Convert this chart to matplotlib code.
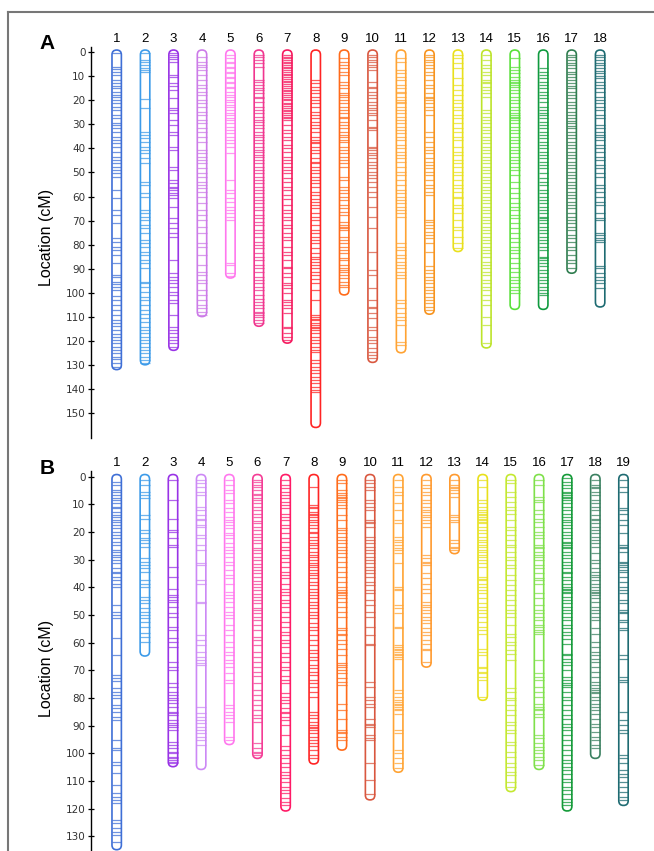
import matplotlib
matplotlib.use("Agg")
import matplotlib.pyplot as plt
from matplotlib.patches import FancyBboxPatch
from matplotlib.lines import Line2D

# ---- panel A : linkage group lengths (cM) and marker positions ----
lengths_a = [131, 129, 123, 109, 93, 113, 120, 155, 100, 128, 124, 108, 82, 122, 106, 106, 91, 105]
colors_a = ['#3f6fd6', '#3d9be9', '#9933e6', '#cc7ae8', '#ff77ee', '#f0368f', '#f5195e', '#ff2424',
            '#ff6b1a', '#d9573f', '#ffa333', '#f7931e', '#e9e01c', '#bde42a', '#59e03a', '#0f9a3e',
            '#2f7d4f', '#1e6b72']

a1 = [0.5, 6.1, 7.1, 8.2, 9.5, 11.6, 13, 14.1, 15.1, 16.5, 17.8, 18.8, 19.9, 21.3, 22.7, 24.1, 26.1, 27.5,
      29.6, 30.3, 31.7, 33.1, 35.1, 36.5, 37.9, 39.3, 41.4, 43.4, 44.8, 46.2, 47.6, 49, 50.3, 51.7, 57.3,
      60.7, 65.6, 67.6, 71.1, 77.3, 78.7, 80.8, 82.2, 84.2, 87.7, 92.5, 93.2, 95.3, 96.4, 97.7, 98.8, 101.3,
      102.9, 105, 107.1, 109.1, 111.2, 112.6, 113.7, 115.3, 117, 118.4, 119.5, 120.9, 122.5, 123.7, 125,
      126.4, 127.5, 129.2, 130.6]
a2 = [0.5, 3.3, 4, 5.4, 6.5, 7.5, 8.2, 19.6, 23.4, 33.1, 34.4, 35.8, 37.2, 39.3, 40.7, 42, 44.1, 46.2,
      53.8, 55.2, 58.6, 60, 65.6, 66.9, 68.3, 69.7, 71.8, 73.1, 75.2, 78, 79.4, 80.8, 82.8, 84.2, 86.3,
      87.7, 89.8, 95.3, 96, 97.7, 99.4, 101.5, 102.9, 105, 107.1, 108.7, 110.5, 111.9, 114, 115.3, 116.7,
      118.4, 119.5, 120.9, 122.3, 123.7, 125, 126.4, 127.8, 129]
a3 = [0.5, 1.2, 2.2, 3, 4, 9.5, 10.5, 13, 14.1, 15.8, 19.2, 23.4, 24.1, 25.4, 28.2, 30.3, 33.1, 34.4,
      39.3, 40.7, 47.6, 49, 53.1, 54.5, 55.9, 56.6, 57.3, 58.6, 59.3, 60.7, 64.2, 69, 71.1, 73.1, 75.2,
      76.6, 86.3, 91.8, 93.2, 94.6, 96, 97.4, 99.4, 100.8, 102.9, 104.3, 109.1, 114, 115.3, 116.7, 118.1,
      119.5, 120.9, 122.3]
a4 = [1.9, 4, 5.4, 6.1, 7.5, 9.5, 11.6, 13.7, 15.1, 16.5, 17.8, 19.9, 21.3, 22.7, 24.8, 26.1, 28.2, 29.6,
      31.7, 33.1, 35.1, 37.2, 40.7, 42, 43.4, 44.8, 46.2, 48.3, 50.3, 51.7, 53.8, 55.2, 56.6, 58, 60, 62.8,
      65.6, 67.6, 69.7, 72.5, 75.2, 79.4, 80.8, 84.3, 88.4, 91.2, 92.5, 94.6, 96, 98.8, 100.8, 102.9, 105,
      106.4, 107.8, 109]
a5 = [1.2, 2.6, 4, 4.7, 6.1, 6.8, 8.2, 8.9, 10.2, 10.9, 12.3, 13, 14.4, 15.1, 16.5, 17.8, 18.5, 19.9, 20.6,
      22, 22.7, 24.1, 25.4, 26.1, 27.5, 28.2, 29.6, 31, 32.4, 33.7, 35.1, 36.5, 37.9, 39.3, 42, 53.1, 57.3,
      58.6, 60.7, 62.1, 64.2, 65.6, 66.9, 68.3, 69.7, 87.7, 88.4, 91.8, 92.8]
a6 = [1.2, 1.9, 3.3, 4.7, 6.1, 11.6, 12.3, 13.7, 15.1, 15.8, 17.1, 18.5, 19.2, 20.6, 22.7, 24.1, 25.4, 26.8,
      28.2, 28.9, 30.3, 31.7, 33.1, 34.4, 35.1, 36.5, 37.9, 39.3, 40.7, 41.4, 42.7, 43.4, 44.8, 46.2, 47.6,
      49, 50.3, 51.7, 53.1, 54.5, 55.9, 57.3, 58.6, 60, 61.4, 62.8, 64.2, 65.5, 67.6, 69, 70.4, 71.8, 73.8,
      75.2, 76.6, 78.7, 80, 81.4, 83.5, 84.9, 86.3, 88.4, 89.7, 91.1, 93.2, 94.6, 96, 97.4, 98.8, 100.9,
      102.3, 103.6, 105, 106.4, 107.8, 108.5, 109.2, 109.9, 111.2, 112.6]
a7 = [1.2, 2, 2.6, 3.3, 4, 4.7, 5.4, 6.1, 6.8, 7.5, 8.2, 9, 9.6, 10.5, 11.2, 12, 12.6, 13.4, 14.1, 15, 15.7,
      16.4, 17.2, 18, 18.6, 19.4, 20.1, 21, 21.6, 22.4, 23.2, 24, 24.6, 25.4, 26.2, 27, 27.6, 28.3, 30.3,
      32.4, 33.8, 35.1, 36.5, 38.6, 40, 41.4, 43.5, 44.9, 46.2, 47.6, 49, 50.3, 52.4, 53.8, 55.9, 57.3, 59.4,
      60.8, 63.5, 65.5, 66.9, 68.3, 69.7, 71.8, 73.1, 75.2, 76.6, 78, 80.8, 82.8, 84.3, 86.3, 89.1, 89.8,
      91.9, 93.2, 96, 96.7, 98.1, 100.2, 102.9, 103.6, 105, 106.4, 108.5, 114, 114.7, 116.8, 118.2, 119.5]
a8 = [11.6, 13, 14.4, 15.8, 17.1, 18.5, 19.9, 21.3, 22.7, 24.8, 26.1, 27.5, 28.9, 30.3, 31.7, 33.1, 35.1,
      36.5, 37.2, 37.9, 39.3, 40.7, 42, 44.1, 45.5, 46.2, 47.6, 49, 50.3, 51.7, 53.1, 54.5, 55.9, 58, 59.4,
      60.8, 62.1, 63.5, 64.9, 66.9, 68.3, 69.7, 71.8, 73.8, 75.2, 76.6, 78, 79.4, 81.4, 83.5, 84.9, 85.7,
      87, 88.4, 89.8, 91.2, 92.6, 94, 96, 98.8, 102.9, 109.2, 109.9, 110.6, 111.2, 112.6, 113.3, 114,
      114.7, 115.4, 116.8, 118.2, 119.5, 120.9, 122.3, 123.7, 124.4, 127.8, 129.2, 130.6, 132, 133.4,
      134.8, 136.1, 137.5, 138.9, 140.3, 141]
a9 = [2.6, 4, 5.4, 6.8, 8.2, 9.5, 12.3, 13.7, 15.1, 17.1, 17.8, 18.5, 19.9, 21.3, 22.7, 24.1, 25.4, 26.8,
      27.5, 28.9, 30.3, 31.7, 33.1, 34.4, 35.1, 36.5, 37.2, 39.3, 40.7, 42, 43.4, 44.8, 46.2, 47.6, 51.7,
      53.1, 55.9, 57.3, 58.6, 60, 61.4, 63.5, 64.9, 66.2, 67.6, 70.4, 71.8, 72.5, 73.1, 73.8, 76.6, 78,
      79.4, 80.8, 82.1, 83.5, 85.6, 86.3, 88.4, 89.8, 90.4, 91.1, 92.5, 93.9, 95.3, 96.7, 97.4]
a10 = [1.2, 2.2, 3.3, 4.3, 5.4, 6.4, 7.5, 12.3, 14.4, 15.1, 16.5, 17.8, 19.2, 20.6, 22, 23.4, 24.1, 25.4,
       26.1, 28.2, 31, 31.7, 32.4, 39.3, 40, 40.7, 42, 42.7, 44.1, 45.5, 46.9, 48.3, 49.6, 51, 52.4, 53.8,
       55.9, 58, 60, 64.2, 68.3, 73.2, 82.8, 90.4, 92.5, 98, 102.9, 105.7, 106.4, 108.4, 110.5, 114,
       115.3, 118.1, 119.5, 120.9, 123, 124.3, 125.7, 127.1]
a11 = [2.6, 4, 7.5, 8.9, 10.2, 11.6, 13.7, 15.1, 16.5, 17.1, 18.5, 19.9, 20.6, 21.3, 22.7, 24.1, 25.4,
       26.8, 28.2, 29.6, 31, 32.4, 33.7, 35.1, 36.5, 38.6, 40, 41.4, 42.7, 44.1, 45.5, 47.6, 49.6, 51,
       53.1, 55.2, 57.3, 58.6, 60, 61.4, 62.8, 64.2, 65.5, 66.9, 68.3, 79.4, 80.8, 82.1, 84.2, 85.6, 87,
       88.4, 89.7, 91.1, 92.5, 93.9, 102.9, 104.3, 106.3, 108.4, 109.8, 111.2, 113.3, 120.2, 121.6]
a12 = [1.2, 2.2, 3.3, 4.3, 5.4, 6.8, 8.2, 9.5, 11.6, 13.7, 15.1, 17.1, 18.5, 19.2, 19.9, 21.3, 22.7, 24.1,
       26.1, 33.1, 35.1, 37.2, 39.3, 40.7, 42, 44.1, 45.5, 46.9, 48.3, 49.6, 51, 53.1, 55.2, 56.6, 58,
       59.3, 69.7, 70.4, 71.8, 73.2, 74.5, 75.9, 77.3, 79.4, 82.8, 89, 90.4, 91.8, 93.2, 94.6, 96, 97.4,
       98.7, 100.1, 101.5, 102.9, 104.3, 105.7, 107.1]
a13 = [1.2, 2.6, 4.7, 6.8, 10.9, 13.7, 15.8, 17.8, 19.9, 21.3, 22.7, 24.1, 26.1, 27.5, 29.6, 31.7, 33.1,
       35.1, 36.5, 39.3, 41.4, 42.7, 44.8, 46.2, 47.6, 49.6, 51, 53.1, 55.2, 56.6, 58, 60, 60.7, 63.5,
       64.9, 66.9, 69.7, 72.5, 73.8, 76.6, 79.4, 81.3]
a14 = [1.2, 3.3, 5.4, 6.8, 8.2, 9.5, 11.6, 12.3, 13, 14.4, 15.8, 17.1, 18.5, 24.1, 25.4, 26.8, 28.2, 29.6,
       31, 32.4, 33.7, 35.1, 36.5, 37.9, 39.3, 40.7, 42, 43.4, 44.8, 46.2, 47.6, 49, 50.3, 51.7, 53.1,
       54.5, 55.9, 57.3, 58.6, 60, 61.4, 62.8, 64.2, 65.5, 66.9, 68.3, 69.7, 71.1, 72.5, 73.8, 75.2, 76.6,
       78, 79.4, 80.8, 82.1, 83.5, 84.9, 87, 88.4, 89.8, 91.1, 92.5, 94.6, 96, 97.4, 98.7, 100.8, 102.9,
       105, 109.8, 113.3, 120.9]
a15 = [2.6, 6.1, 7.5, 8.9, 10.2, 11.6, 12.3, 13, 13.7, 14.4, 15.8, 17.1, 18.5, 19.9, 21.3, 22.7, 24.1,
       25.4, 26.1, 26.8, 27.5, 28.2, 29.6, 31, 32.4, 33.7, 35.1, 36.5, 37.9, 39.3, 40.7, 42, 43.4, 44.8,
       46.2, 47.6, 49, 51, 53.8, 56.6, 58.6, 60.7, 62.8, 64.2, 65.5, 67.6, 69, 71.1, 73.2, 75.2, 77.3,
       78.7, 80.8, 82.1, 83.5, 85.6, 87.7, 89.8, 91.1, 93.2, 94.6, 96, 97.4, 98.7, 100.1]
a16 = [6.8, 8.2, 9.5, 10.9, 12.3, 13.7, 15.1, 16.5, 17.8, 19.2, 20.6, 22.7, 24.1, 25.4, 26.1, 27.5, 28.9,
       30.3, 31.7, 33.1, 34.4, 35.8, 37.2, 38.6, 40, 41.4, 42.7, 44.1, 45.5, 46.9, 48.3, 50.3, 52.4, 53.8,
       55.2, 57.3, 58.6, 60, 61.4, 62.8, 64.2, 65.5, 66.9, 68.3, 69, 69.7, 71.1, 72.5, 73.8, 75.2, 76.6,
       78, 79.4, 80.8, 82.1, 84.9, 85.6, 86.3, 87.7, 89, 90.4, 91.8, 93.2, 94.6, 96, 97.4, 98.7, 100.1, 100.8]
a17 = [1.2, 2.2, 3.3, 4.4, 5.4, 6.8, 8.2, 9.1, 10.2, 11.6, 13, 14.1, 15.1, 16.5, 17.8, 19.2, 20.6, 22,
       23.4, 24.8, 26.1, 27.5, 28.5, 29.6, 30.7, 31.7, 33.1, 34.4, 35.8, 37.2, 38.6, 40, 41.4, 42.7, 44.1,
       45.5, 46.9, 48.3, 49.6, 51, 52.4, 53.8, 55.2, 56.6, 58, 59.3, 60.7, 62.1, 63.5, 64.9, 66.9, 68.3,
       69.7, 71.1, 72.5, 73.8, 75.9, 77.3, 78.7, 80.8, 82.1, 84.2, 86.3, 87.7, 89.8]
a18 = [1.2, 2.2, 3.3, 4.4, 5.4, 6.8, 7.8, 8.9, 10, 10.9, 12.3, 13.7, 15.1, 16.5, 18.5, 19.9, 21.3, 22.7,
       24.1, 26.1, 27.5, 30.3, 31.7, 33.1, 34.4, 35.1, 36.5, 38.6, 40, 41.4, 43.4, 44.8, 46.9, 48.3, 50.3,
       51.7, 55.2, 56.6, 58, 60, 62.1, 63.5, 66.9, 69, 69.7, 75.2, 75.9, 77.3, 78, 78.7, 89, 89.8, 91.8,
       93.2, 94.6, 96, 98.1]

# ---- panel B ----
lengths_b = [134, 64, 104, 105, 96, 101, 120, 103, 98, 116, 106, 68, 27, 80, 113, 105, 120, 101, 118]
colors_b = ['#3f6fd6', '#3d9be9', '#9933e6', '#cc88f5', '#ff77ee', '#f43c95', '#ff1a66', '#ff2424',
            '#ff6b1a', '#d9573f', '#ffa333', '#ff9a2e', '#ff9a2e', '#e8e01a', '#c4e830', '#7fe04a',
            '#139a38', '#3a8060', '#1e6b72']

b1 = [1.8, 3, 4.8, 5.4, 6.6, 7.8, 8.4, 9.6, 10.8, 11.4, 12.7, 13.9, 14.5, 15.7, 16.3, 17.5, 18.7, 19.9,
      21.1, 22.3, 23.5, 24.7, 26.5, 27.1, 28.3, 28.9, 30.1, 31.3, 33.1, 34.3, 34.9, 36.2, 37.4, 38.6,
      39.8, 46.4, 48.8, 50, 51.2, 58.4, 64.4, 71.6, 72.8, 74, 76.5, 77.7, 78.9, 80.1, 82.5, 83.7, 84.9,
      86.7, 87.9, 95.1, 98.1, 98.8, 103, 104.2, 107.2, 111.4, 114.4, 115.6, 116.8, 118, 124.1, 125.3,
      127.1, 128.3, 129.5, 131.9]
b2 = [1.2, 3, 5.4, 6.6, 7.8, 13.9, 15.1, 19.3, 20.5, 22.3, 22.9, 24.1, 25.3, 29.5, 30.7, 31.9, 33.1,
      34.3, 37.4, 38.6, 39.8, 43.4, 44.6, 45.8, 47.6, 48.8, 50, 51.2, 52.4, 54.2, 56.6, 57.8, 59.6]
b3 = [1.2, 8.4, 15.1, 19.3, 19.9, 22.3, 24.7, 25.3, 32.5, 36.2, 40.4, 42.8, 43.4, 44.6, 45.2, 47, 49.4,
      50.6, 54.2, 55.4, 58.4, 59.6, 61.4, 66.8, 68.6, 69.8, 74.7, 75.9, 77.7, 78.9, 80.1, 80.7, 81.9, 83.1,
      84.9, 85.5, 86.1, 87.9, 89.1, 89.7, 90.3, 91.5, 95.7, 96.9, 98.1, 99.4, 100, 101.2, 101.8, 102.4,
      103, 103.6]
b4 = [1.2, 2.4, 3.6, 5.4, 6.6, 10.8, 12, 13.9, 15.1, 15.7, 17.5, 18.1, 21.1, 22.3, 24.7, 26.5, 31.3,
      31.9, 37.4, 38.6, 45.2, 45.8, 57.2, 59, 60.8, 63.2, 65, 66.2, 67.4, 68, 83.1, 85.5, 86.7, 87.9,
      89.1, 90.3, 91.5, 92.7, 93.9, 95.1, 96.9]
b5 = [1.2, 3, 4.8, 6, 8.4, 9.6, 11.4, 12.7, 14.5, 15.7, 16.3, 17.5, 18.7, 20.5, 21.1, 22.3, 24.1, 25.3,
      26.5, 27.7, 28.9, 30.7, 31.9, 33.7, 35.5, 36.7, 38.6, 41.6, 42.8, 44, 45.2, 47, 48.8, 50, 51.2,
      53.6, 55.4, 57.2, 59.6, 61.4, 63.2, 64.4, 66.2, 67.4, 68.6, 71, 73.4, 74.7, 82.5, 83.7, 84.9, 86.1,
      87.3, 88.5, 93.9, 95.1]
b6 = [1.2, 1.8, 3, 3.6, 4.8, 6.2, 6.6, 7.8, 8.4, 9.6, 11.1, 12, 13.3, 14.5, 15.9, 16.9, 18.1, 19.3, 20.8,
      21.7, 22.9, 24.1, 25.6, 26.5, 27.7, 28.9, 30.1, 31.6, 32.5, 33.7, 34.9, 36.2, 37.7, 38.6, 39.8, 41,
      42.5, 43.4, 44.6, 45.8, 47.3, 48.2, 49.4, 50.6, 51.8, 53.6, 55.4, 57.8, 59, 60.8, 63.2, 65, 66.8,
      68.6, 70.4, 72.2, 74.7, 77.1, 78.9, 80.7, 82.5, 84.3, 86.1, 87.3, 88.5, 96.3, 98.1, 99.4, 100, 100.6]
b7 = [1.2, 3, 4.2, 5.4, 6.6, 7.8, 9, 10.2, 11.4, 13.3, 14.5, 15.7, 17.5, 18.7, 20.5, 22.3, 23.5, 25.3,
      26.5, 28.3, 29.5, 30.7, 32.5, 34.3, 35.5, 36.7, 38.6, 40.4, 41.6, 42.8, 44.6, 45.8, 47, 48.8, 50.6,
      52.4, 54.2, 56, 57.2, 59, 60.2, 61.4, 63.8, 65, 66.8, 68.6, 69.8, 72.2, 73.4, 74.7, 78.3, 79.5,
      80.7, 81.9, 83.7, 84.9, 85.5, 86.7, 87.9, 89.7, 93.3, 97.5, 98.8, 100.6, 101.8, 103.6, 104.8, 106.6,
      107.8, 109, 110.2, 112, 113.2, 114.4, 116.2, 117.4, 118.6]
b8 = [3.6, 10.2, 10.8, 11.4, 12.7, 13.3, 13.9, 14.5, 15.7, 16.3, 17.5, 18.7, 19.9, 20.5, 21.7, 22.9,
      24.1, 24.7, 25.9, 27.1, 28.3, 28.9, 30.1, 31.3, 31.9, 32.5, 33.7, 34.9, 35.5, 36.7, 37.9, 39.1,
      40.4, 41.6, 42.8, 44, 45.2, 46.4, 47.6, 48.8, 50, 51.2, 53, 54.2, 55.4, 57.2, 59, 60.8, 62.6, 63.8,
      65, 66.2, 68, 69.2, 70.4, 71.6, 73.4, 74.7, 75.9, 77.7, 79.5, 84.9, 86.1, 87.3, 88.5, 89.7, 90.3,
      90.9, 91.5, 92.7, 93.9, 95.1, 96.3, 97.5, 98.8, 100.6, 101.8]
b9 = [1.2, 2.4, 4.8, 6, 6.6, 7.2, 7.8, 8.4, 9, 10.2, 11.4, 13.9, 15.7, 18.7, 19.3, 20.5, 21.7, 22.9,
      24.1, 25.3, 26.5, 27.7, 28.9, 30.7, 32.5, 34.3, 36.2, 38, 39.8, 41, 41.6, 42.2, 42.8, 44, 45.2, 47,
      48.8, 50.6, 54.8, 55.4, 56.7, 57.3, 59.1, 60.3, 62.1, 64.5, 67.5, 68.1, 68.7, 69.9, 71.1, 72.9,
      74.1, 75.3, 82, 84.4, 87.4, 91.6, 92.2, 92.8, 94, 95.2]
b10 = [1.2, 2.4, 3.6, 4.8, 8.4, 9.6, 10.8, 12, 15.7, 16.3, 16.9, 18.1, 21.7, 22.9, 24.1, 25.3, 26.5, 27.7,
       28.9, 30.1, 31.3, 32.5, 33.7, 34.9, 36.2, 38, 39.2, 41, 42.2, 44.6, 46.4, 48.8, 50.6, 54.2, 57.3,
       60.3, 60.9, 74.1, 75.9, 79.5, 80.8, 82, 83.2, 87.4, 89.2, 89.8, 90.4, 93.4, 94.6, 95.2, 103.6,
       109.7, 114.5]
b11 = [1.2, 3.6, 5.4, 6.6, 9.6, 12, 15.7, 16.9, 21.7, 22.9, 23.5, 24.7, 25.9, 26.5, 27.7, 31.3, 39.8,
       40.4, 41, 46.4, 47.6, 49.4, 54.2, 54.8, 60.9, 61.5, 62.1, 62.7, 63.3, 63.9, 64.5, 65.1, 65.7, 77.1,
       78.3, 79.5, 80.8, 81.4, 82, 82.6, 83.2, 83.8, 84.4, 85.6, 91.6, 92.8, 98.8, 100, 101.8, 103.6, 105.2]
b12 = [1.2, 3, 4.2, 5.4, 6.6, 8.4, 9.6, 10.8, 12, 12.7, 13.9, 14.5, 15.7, 16.9, 18.1, 28.3, 29.5, 30.7,
       31.3, 31.9, 34.9, 36.7, 38.6, 40.4, 42.2, 45.2, 46.4, 47, 48.2, 49.4, 50.6, 51.8, 53, 54.8, 56,
       57.3, 59.1, 60.3, 62.1, 62.7, 66.9]
b13 = [1.2, 3, 3.6, 4.2, 4.8, 6, 7.2, 13.9, 14.5, 15.7, 16.3, 22.9, 24.1, 25.3, 25.9, 26.5]
b14 = [1.2, 3.6, 8.4, 9.6, 10.8, 12, 12.7, 13.3, 13.9, 14.5, 15.1, 15.7, 16.3, 16.9, 18.1, 19.3, 20.5,
       21.7, 22.9, 23.5, 24.7, 25.3, 26.5, 27.1, 28.3, 28.9, 30.1, 31.3, 32.5, 36.2, 36.8, 37.4, 38.6,
       39.8, 41, 42.2, 44, 45.8, 47, 48.2, 49.4, 50.6, 52.4, 54.2, 55.4, 56.7, 62.1, 63.3, 64.5, 68.7,
       69.3, 70.5, 71.1, 72.3, 73.5, 79.5]
b15 = [1.2, 2.4, 5.4, 7.2, 9, 10.8, 12, 13.3, 15.7, 18.1, 19.3, 21.1, 22.9, 24.7, 25.3, 27.1, 28.9, 30.1,
       31.9, 33.1, 35.5, 37.4, 39.2, 41, 42.8, 44.6, 46.4, 48.2, 49.4, 50.6, 53.6, 56.7, 57.9, 59.7, 60.9,
       62.7, 63.9, 66.3, 76.5, 77.7, 80.1, 80.8, 82.6, 84.4, 86.2, 88.6, 89.8, 91.6, 92.8, 95.8, 97, 99.4,
       101.2, 103.6, 104.8, 106.7, 107.9, 110.3, 112.1]
b16 = [1.2, 3, 7.2, 8.4, 9, 12, 13.3, 15.1, 16.3, 18.1, 19.9, 21.1, 22.3, 24.7, 25.3, 25.9, 27.1, 28.3,
       28.9, 30.1, 31.9, 33.1, 34.9, 36.7, 37.4, 38.6, 42.2, 44, 46.4, 48.2, 49.4, 50.6, 51.8, 53.6, 54.2,
       55.4, 56, 56.7, 66.3, 71.1, 72.3, 73.5, 75.9, 77.7, 79.5, 82, 83.2, 83.8, 84.4, 85.6, 86.8, 93.4,
       94.6, 96.4, 97.6, 98.8, 100, 101.2, 102.4, 104.2]
b17 = [0.6, 1.8, 3, 4.2, 5.4, 6, 6.6, 7.2, 7.8, 8.4, 9.6, 10.8, 12, 13.3, 14.5, 15.7, 16.3, 17.5, 18.7,
       19.9, 21.1, 22.3, 23.5, 24.1, 24.7, 25.3, 25.9, 27.1, 28.3, 29.5, 30.7, 31.9, 33.1, 34.3, 34.9,
       36.2, 37.4, 38.6, 39.8, 40.4, 41, 41.6, 42.2, 43.4, 44.6, 45.8, 47, 48.2, 49.4, 50.6, 51.8, 53.6,
       54.8, 56, 57.3, 58.5, 60.3, 63.9, 64.5, 65.7, 66.9, 68.1, 69.9, 72.3, 73.5, 74.7, 75.3, 75.9, 77.7,
       79.5, 80.8, 82.6, 84.4, 86.2, 87.4, 89.2, 90.4, 91.6, 93.4, 95.2, 97, 98.8, 100.6, 102.4, 103.6,
       104.8, 106, 107.3, 109.1, 110.3, 112.1, 113.3, 114.5, 116.3, 117.5, 118.7]
b18 = [1.2, 3, 3.6, 4.2, 5.4, 6.6, 8.4, 9.6, 10.8, 12, 13.9, 15.1, 15.7, 16.9, 18.1, 19.3, 20.5, 21.7,
       22.9, 24.1, 25.3, 27.7, 30.1, 31.3, 33.1, 34.3, 35.5, 36.2, 37.4, 38.6, 39.8, 41, 41.6, 42.2, 42.8,
       44, 45.2, 47, 48.2, 49.4, 50.6, 51.8, 54.8, 56.7, 59.7, 61.5, 63.3, 64.5, 65.7, 66.9, 68.7, 70.5,
       72.3, 74.1, 75.3, 76.5, 77.1, 77.7, 78.3, 79.5, 80.8, 82, 83.2, 84.4, 85.6, 87.4, 89.2, 90.4, 92.2,
       94, 95.2, 97, 98.2]
b19 = [1.2, 3.6, 5.4, 11.4, 12, 13.3, 15.7, 17.5, 20.5, 24.7, 25.3, 25.9, 27.1, 30.7, 31.3, 31.9, 32.5,
       33.7, 34.3, 36.2, 38, 39.8, 41, 42.2, 44.6, 45.8, 48.2, 48.8, 49.4, 51.8, 52.4, 54.8, 55.4, 64.5,
       65.7, 72.3, 73.5, 74.1, 85, 88, 89.8, 91.6, 92.8, 100.6, 101.8, 103.6, 106, 107.3, 108.5, 110.3,
       112.1, 113.9, 115.7, 116.9]

markers_a = [a1, a2, a3, a4, a5, a6, a7, a8, a9, a10, a11, a12, a13, a14, a15, a16, a17, a18]
markers_b = [b1, b2, b3, b4, b5, b6, b7, b8, b9, b10, b11, b12, b13, b14, b15, b16, b17, b18, b19]
ticks_a = list(range(0, 151, 10))
ticks_b = list(range(0, 131, 10))


def draw_panel(ax, lengths, markers, colors, ticks, half_w, cap_r, label_y):
    for i, (length, pos, col) in enumerate(zip(lengths, markers, colors)):
        x = i + 1
        # chromosome outline (capsule)
        body = FancyBboxPatch((x - half_w, -0.8), 2 * half_w, length + 1.6,
                              boxstyle="round,pad=0,rounding_size=%f" % half_w,
                              mutation_aspect=cap_r / half_w,
                              facecolor='white', edgecolor=col, lw=1.2, zorder=2)
        ax.add_patch(body)
        ax.hlines(pos, x - half_w, x + half_w, colors=col, lw=0.9, alpha=0.75, zorder=3)
        ax.text(x, label_y, str(x), ha='center', va='center', fontsize=9.5,
                family='Liberation Sans', clip_on=False)
    ax.set_yticks(ticks)
    ax.tick_params(axis='y', direction='inout', length=5, width=0.9, pad=1.5,
                   labelsize=7.5, labelcolor='#333333')
    ax.set_xticks([])
    for s in ['top', 'right', 'bottom']:
        ax.spines[s].set_visible(False)
    ax.spines['left'].set_linewidth(1.0)
    ax.patch.set_alpha(0)


fig = plt.figure(figsize=(6.54, 8.51), dpi=100)

ax_a = fig.add_axes([0.1391, 0.4858, 0.8394, 0.4588])
ax_a.set_xlim(0.096, 19.4)
ax_a.set_ylim(160, -2)
draw_panel(ax_a, lengths_a, markers_a, colors_a, ticks_a, 0.165, 1.95, -5.4)

ax_b = fig.add_axes([0.1391, 0.0, 0.8547, 0.4463])
ax_b.set_xlim(0.087, 19.94)
ax_b.set_ylim(135.27, -2)
draw_panel(ax_b, lengths_b, markers_b, colors_b, ticks_b, 0.167, 1.7, -4.8)

# axis titles and panel letters
fig.text(47 / 654, 1 - 237 / 851, 'Location (cM)', rotation=90, ha='center', va='center',
         fontsize=11.5, family='Liberation Sans')
fig.text(47 / 654, 1 - 668 / 851, 'Location (cM)', rotation=90, ha='center', va='center',
         fontsize=11.5, family='Liberation Sans')
fig.text(46.7 / 654, 1 - 43.3 / 851, 'A', ha='center', va='center', fontsize=15,
         fontweight='bold', family='Liberation Sans')
fig.text(46.7 / 654, 1 - 468 / 851, 'B', ha='center', va='center', fontsize=15,
         fontweight='bold', family='Liberation Sans')

# grey frame on top and left
fx = 8 / 654
fy = 1 - 12 / 851
fig.add_artist(Line2D([fx, 1], [fy, fy], transform=fig.transFigure, color='#777777', lw=1.5))
fig.add_artist(Line2D([fx, fx], [0, fy], transform=fig.transFigure, color='#777777', lw=1.5))

fig.savefig('out.png', dpi=100)
